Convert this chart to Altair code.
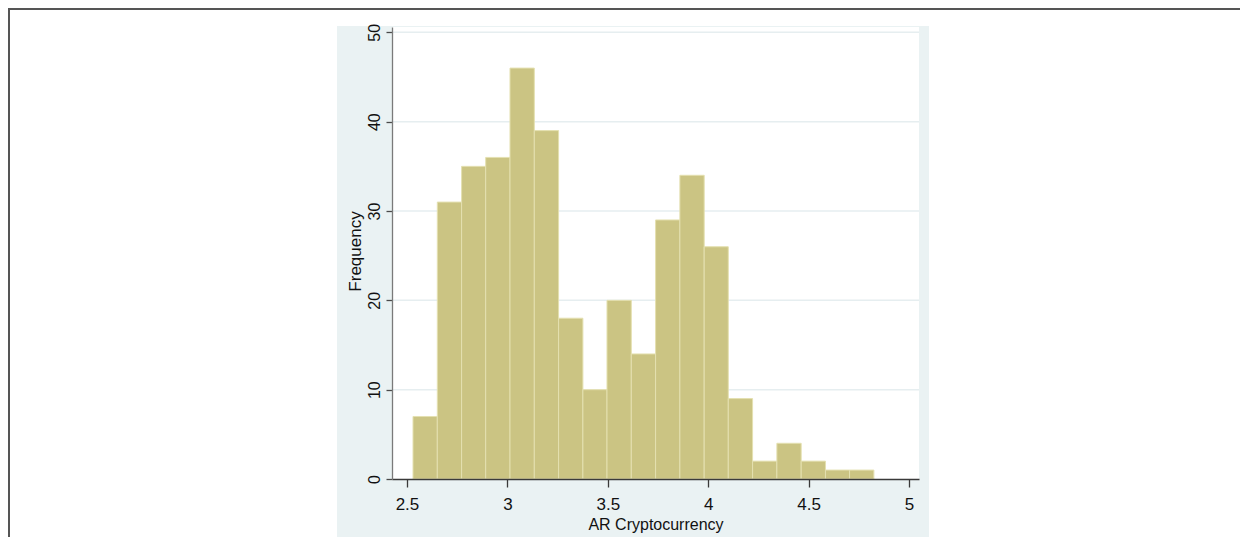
import altair as alt
import pandas as pd

# Histogram of AR Cryptocurrency
counts = [7, 31, 35, 36, 46, 39, 18, 10, 20, 14, 29, 34, 26, 9, 2, 4, 2, 1, 1]
bin_left = [2.530, 2.651, 2.772, 2.892, 3.013, 3.134, 3.255, 3.376, 3.496, 3.617,
            3.738, 3.859, 3.980, 4.100, 4.221, 4.342, 4.463, 4.584, 4.704]
bin_right = [2.651, 2.772, 2.892, 3.013, 3.134, 3.255, 3.376, 3.496, 3.617, 3.738,
             3.859, 3.980, 4.100, 4.221, 4.342, 4.463, 4.584, 4.704, 4.825]
x_ticks = [2.5, 3, 3.5, 4, 4.5, 5]
y_ticks = [0, 10, 20, 30, 40, 50]
grid_vals = [10, 20, 30, 40, 50]

df = pd.DataFrame({"left": bin_left, "right": bin_right, "count": counts})
grid_df = pd.DataFrame({"v": grid_vals})

FONT = "Liberation Sans, Arial"
PW, PH = 527, 452

xscale = alt.Scale(domain=[2.4254, 5.0497], nice=False, zero=False)
yscale = alt.Scale(domain=[0, 50.6], nice=False, zero=True)

x_axis = alt.Axis(
    values=x_ticks, format="~g", title="AR Cryptocurrency", grid=False,
    domainColor="#3a3a3a", domainWidth=1.3, tickColor="#3a3a3a", tickWidth=1.3,
    tickSize=8, labelFont=FONT, labelFontSize=17, labelColor="#111111",
    labelBaseline="alphabetic", labelPadding=22, labelFlush=False, labelOverlap=False,
    titleFont=FONT, titleFontSize=16, titleFontWeight="normal", titleColor="#111111",
    titleBaseline="alphabetic", titleAlign="center", titleX=PW / 2, titleY=50, zindex=1,
)
y_axis = alt.Axis(
    values=y_ticks, format="d", title="Frequency", grid=False,
    domainColor="#7a7a7a", domainWidth=1.3, tickColor="#4a4a4a", tickWidth=1.3,
    tickSize=6, labelAngle=270, labelAlign="center", labelBaseline="alphabetic",
    labelPadding=7, labelFont=FONT, labelFontSize=16, labelColor="#111111",
    labelFlush=False, labelOverlap=False,
    titleAngle=270, titleX=-32, titleY=224, titleAlign="center", titleBaseline="alphabetic",
    titleFont=FONT, titleFontSize=17, titleFontWeight="normal",
    titleColor="#111111", zindex=1,
)

one = alt.Data(values=[{}])

panel = alt.Chart(one).mark_rect(color="#eaf2f3", clip=False).encode(
    x=alt.value(-55), x2=alt.value(537), y=alt.value(-1), y2=alt.value(510)
)
top_border = alt.Chart(one).mark_rule(color="#555555", strokeWidth=2, clip=False).encode(
    x=alt.value(-384), x2=alt.value(849), y=alt.value(-18)
)
left_border = alt.Chart(one).mark_rule(color="#555555", strokeWidth=2, clip=False).encode(
    x=alt.value(-383), y=alt.value(-19), y2=alt.value(510)
)
plot_bg = alt.Chart(one).mark_rect(color="white").encode(
    x=alt.value(0), x2=alt.value(PW), y=alt.value(0), y2=alt.value(PH)
)
grid = alt.Chart(grid_df).mark_rule(color="#e6eef0", strokeWidth=1.5).encode(
    y=alt.Y("v:Q", scale=yscale, axis=y_axis), x=alt.value(0), x2=alt.value(PW)
)
bars = alt.Chart(df).mark_bar(fill="#cbc483", stroke="#e4e0b0", strokeWidth=1, opacity=1).encode(
    x=alt.X("left:Q", scale=xscale, axis=x_axis),
    x2="right:Q",
    y=alt.Y("count:Q", scale=yscale, axis=y_axis),
    y2=alt.datum(0),
)

chart = alt.layer(panel, top_border, left_border, plot_bg, grid, bars).properties(
    width=PW, height=PH,
    padding={"left": 384, "top": 19, "right": 321, "bottom": 58},
    autosize=alt.AutoSizeParams(type="none"),
    background="white",
).configure_view(strokeWidth=0)

chart.save("out.html", embed_options={"renderer": "svg", "actions": False})
